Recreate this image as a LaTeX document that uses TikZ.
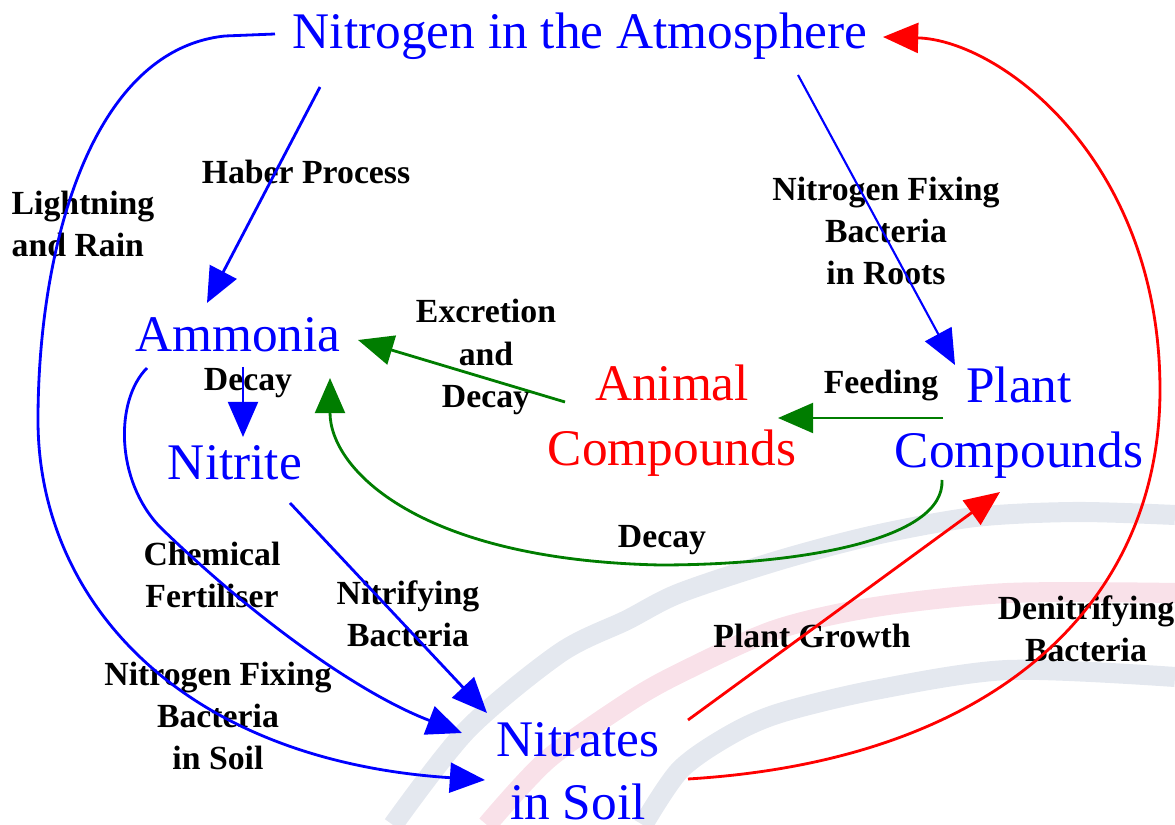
\documentclass[tikz,border=0pt]{standalone}
\usepackage{fontspec}
\setmainfont{Liberation Serif}
\usepackage{xcolor}
\usepackage{tikz}
\usetikzlibrary{positioning,arrows.meta}

\definecolor{cycblue}{RGB}{0,0,255}
\definecolor{cycgreen}{RGB}{0,125,0}
\definecolor{cycred}{RGB}{255,0,0}
\definecolor{bandgray}{RGB}{228,232,239}
\definecolor{bandpink}{RGB}{249,225,233}

\begin{document}
\begin{tikzpicture}[
    x=0.01cm, y=-0.01cm,
    main/.style={inner sep=0pt, align=center, font=\fontsize{14.6}{18.5}\selectfont},
    lbl/.style={inner sep=0pt, align=center, font=\fontsize{9.6}{12}\selectfont\bfseries},
    arr/.style={-{Triangle[length=10pt,width=8.5pt]}, line width=0.8pt},
    band/.style={line width=5.7pt},
]
\useasboundingbox (0,0) rectangle (1175,825);

% background bands
\draw[band, bandgray] plot[smooth] coordinates {(393,825) (467,730) (560,653) (627,620) (680,593) (780,560) (875,535) (975,517) (1075,512) (1175,515)};
\draw[band, bandpink] plot[smooth] coordinates {(487,825) (547,760) (627,703) (680,673) (775,630) (875,607) (1008,593) (1175,593)};
\draw[band, bandgray] plot[smooth] coordinates {(643,825) (680,770) (730,735) (780,713) (875,690) (1008,670) (1175,677)};

% compounds
\node[main, text=cycblue] (atm) at (580,36) {Nitrogen in the Atmosphere};
\node[main, text=cycblue] (amm) at (238,335) {Ammonia};
\node[main, text=cycblue] (nitrite) at (235,463) {Nitrite};
\node[main, text=cycred] (animal) at (672,421) {Animal\\Compounds};
\node[main, text=cycblue] (plant) at (1019,423) {Plant\\Compounds};
\node[main, text=cycblue, font=\fontsize{14.6}{17.8}\selectfont] (nitrates) at (578,771) {Nitrates\\in Soil};

% processes
\node[lbl] (haber) at (306,172) {Haber Process};
\node[lbl, align=left] (lightning) at (83,224) {Lightning\\and Rain};
\node[lbl] (roots) at (886,231) {Nitrogen Fixing\\Bacteria\\in Roots};
\node[lbl] (excretion) at (486,357) {Excretion\\and\\Decay};
\node[lbl] (decayA) at (248,383) {Decay};
\node[lbl] (feeding) at (881,386) {Feeding};
\node[lbl] (decayB) at (662,540) {Decay};
\node[lbl] (chemical) at (212,575) {Chemical\\Fertiliser};
\node[lbl] (nitrifying) at (408,614) {Nitrifying\\Bacteria};
\node[lbl] (soilfix) at (218,716) {Nitrogen Fixing\\Bacteria\\in Soil};
\node[lbl] (growth) at (812,636) {Plant Growth};
\node[lbl] (denitr) at (1086,629) {Denitrifying\\Bacteria};

% blue
\draw[arr, cycblue] ([shift={(-305,-2)}]atm.center) -- (225,36)
    .. controls (90,50) and (38,250) .. (38,420)
    .. controls (38,600) and (180,760) .. ([shift={(-93,9)}]nitrates.center);
\draw[arr, cycblue] ([shift={(-91,33)}]amm.center)
    .. controls (115,400) and (115,480) .. (160,527)
    .. controls (240,605) and (350,690) .. ([shift={(-116,-38)}]nitrates.center);
\draw[arr, cycblue] ([shift={(-260,51)}]atm.center) -- ([shift={(-31,-32)}]amm.center);
\draw[arr, cycblue] ([shift={(5,32)}]amm.center) -- ([shift={(8,-26)}]nitrite.center);
\draw[arr, cycblue] ([shift={(55,40)}]nitrite.center) -- ([shift={(-91,-58)}]nitrates.center);
\draw[arr, cycblue, line width=0.6pt] ([shift={(218,39)}]atm.center) -- ([shift={(-64,-58)}]plant.center);

% green
\draw[arr, cycgreen] ([shift={(-107,-19)}]animal.center) -- ([shift={(120,5)}]amm.center);
\draw[arr, cycgreen] ([shift={(-76,-5)}]plant.center) -- ([shift={(106,-3)}]animal.center);
\draw[arr, cycgreen] ([shift={(-77,57)}]plant.center)
    .. controls (945,540) and (800,565) .. (660,565)
    .. controls (420,560) and (330,470) .. ([shift={(92,43)}]amm.center);

% red
\draw[arr, cycred] ([shift={(110,-51)}]nitrates.center) -- ([shift={(-19,69)}]plant.center);
\draw[arr, cycred] ([shift={(110,8)}]nitrates.center)
    .. controls (1000,760) and (1160,600) .. (1160,390)
    .. controls (1160,160) and (1000,40) .. ([shift={(303,1)}]atm.center);
\end{tikzpicture}
\end{document}
